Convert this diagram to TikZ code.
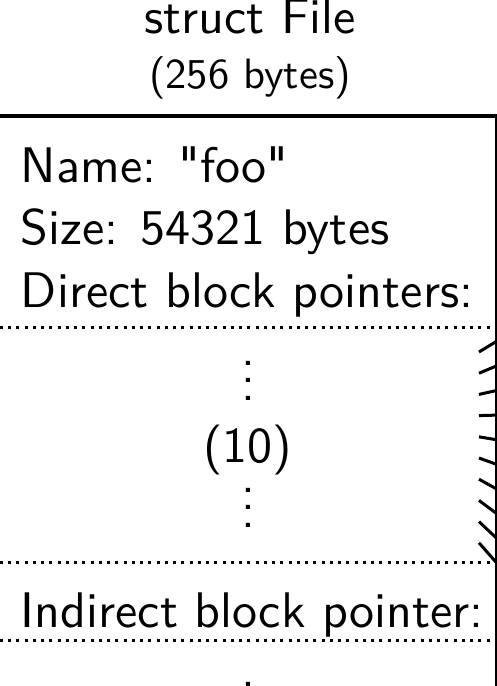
\documentclass[tikz,border=0pt]{standalone}
\usepackage{tikz}
\usepackage{amsmath}
\usepackage{fontspec}
\setsansfont{lmsans10-regular.otf}[Ligatures=TeXOff]

\newcommand\colondots{\vbox{\baselineskip3.5pt\lineskiplimit0pt\hbox{.}\hbox{.}\hbox{.}}}

\begin{document}
\begin{tikzpicture}[x=0.2pt,y=-0.2pt,font=\sffamily,
        txt/.style={inner sep=0pt},
        sep/.style={line width=0.6pt,dash pattern=on 0.6pt off 1.05pt}]
        \useasboundingbox(0,0)rectangle(497,686);
        \clip(0,0)rectangle(497,686);

        \node[txt,anchor=base](title)at(250,33){struct File};
        \node[txt,anchor=base,font=\fontsize{8.5}{10}\sffamily](bytes)at(250,88){(256 bytes)};
        \draw[thick](0,116)--(497,116);
        \draw[line width=0.4pt](496.5,116)--(496.5,686);

        \node[txt,anchor=base west](name)at(20,182){Name: "foo"};
        \node[txt,anchor=base west](size)at(20,244){Size: 54321 bytes};
        \node[txt,anchor=base west](direct)at(20,307){Direct block pointers:};
        \draw[sep](0,327)--(496,327);

        \node[txt,anchor=north](dotsa)at(248,360){\colondots};
        \node[txt,anchor=base](count)at(248,462){(10)};
        \node[txt,anchor=north](dotsb)at(248,487){\colondots};

        \draw[sep](0,562)--(496,562);
        \node[txt,anchor=base west](indirect)at(20,627){Indirect block pointer:};
        \draw[sep](0,640)--(496,640);
        \node[txt,anchor=north](dotsc)at(248,681){\colondots};

        % pointers fanning out to the data blocks
        \foreach \i in {0,...,9}{
            \coordinate(ptr\i)at(479,{352+21.2*\i});
            \coordinate(blk\i)at(587,{286+42.2*\i});
            \draw[->,semithick](ptr\i)--(blk\i);
        }
    \end{tikzpicture}
\end{document}
